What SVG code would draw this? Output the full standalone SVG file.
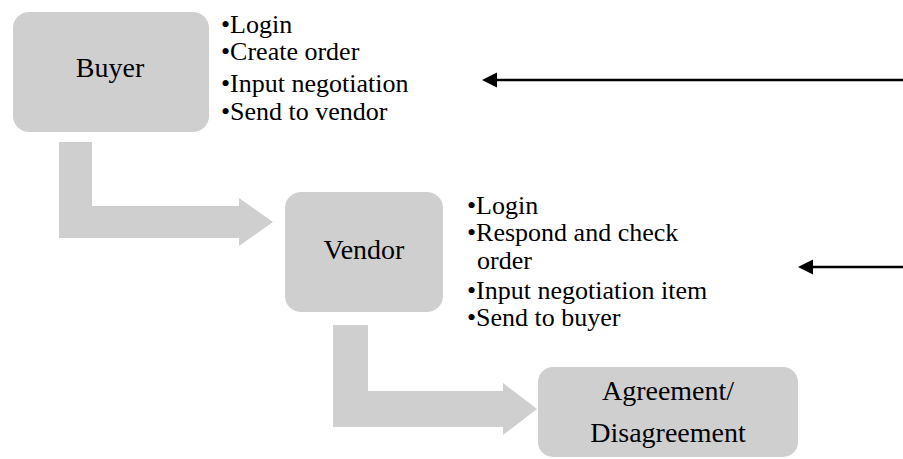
<svg xmlns="http://www.w3.org/2000/svg" width="903" height="459" viewBox="0 0 903 459">
<defs>
<style>
.box{fill:#d0cfd0}
.flow{fill:#d0cfd0}
.lbl{font-family:"Liberation Serif",serif;font-size:28px;fill:#000;text-anchor:middle}
.notes text{font-family:"Liberation Serif",serif;font-size:26px;fill:#000}
.ptr{stroke:#000;stroke-width:2.5;fill:none}
</style>
</defs>
<rect width="903" height="459" fill="#fff"/>
<g id="connectors">
<path class="flow" d="M59,142 H92 V206 H239 V198 L273,222 L239,246 V238 H59 Z"/>
<path class="flow" d="M333,325 H368 V391 H503 V383 L537,409 L503,435 V427 H333 Z"/>
<line class="ptr" x1="903" y1="80" x2="497" y2="80"/>
<path d="M482,80 L497,72.5 L497,87.5 Z" fill="#000"/>
<line class="ptr" x1="903" y1="267" x2="813" y2="267"/>
<path d="M798,267 L813,259.5 L813,274.5 Z" fill="#000"/>
</g>
<g id="buyer">
<rect class="box" x="13" y="12" width="196" height="120" rx="16"/>
<text class="lbl" x="110" y="77">Buyer</text>
</g>
<g id="buyer-notes" class="notes">
<text x="221" y="32.5">•Login</text>
<text x="221" y="60">•Create order</text>
<text x="221" y="91.5">•Input negotiation</text>
<text x="221" y="120">•Send to vendor</text>
</g>
<g id="vendor">
<rect class="box" x="285" y="192" width="158" height="120" rx="16"/>
<text class="lbl" x="364" y="259">Vendor</text>
</g>
<g id="vendor-notes" class="notes">
<text x="467" y="214">•Login</text>
<text x="467" y="241">•Respond and check</text>
<text x="477" y="269">order</text>
<text x="467" y="299">•Input negotiation item</text>
<text x="467" y="326">•Send to buyer</text>
</g>
<g id="agreement">
<rect class="box" x="538" y="367" width="260" height="90" rx="15"/>
<text class="lbl" x="668" y="400">Agreement/</text>
<text class="lbl" x="668" y="442">Disagreement</text>
</g>
</svg>
